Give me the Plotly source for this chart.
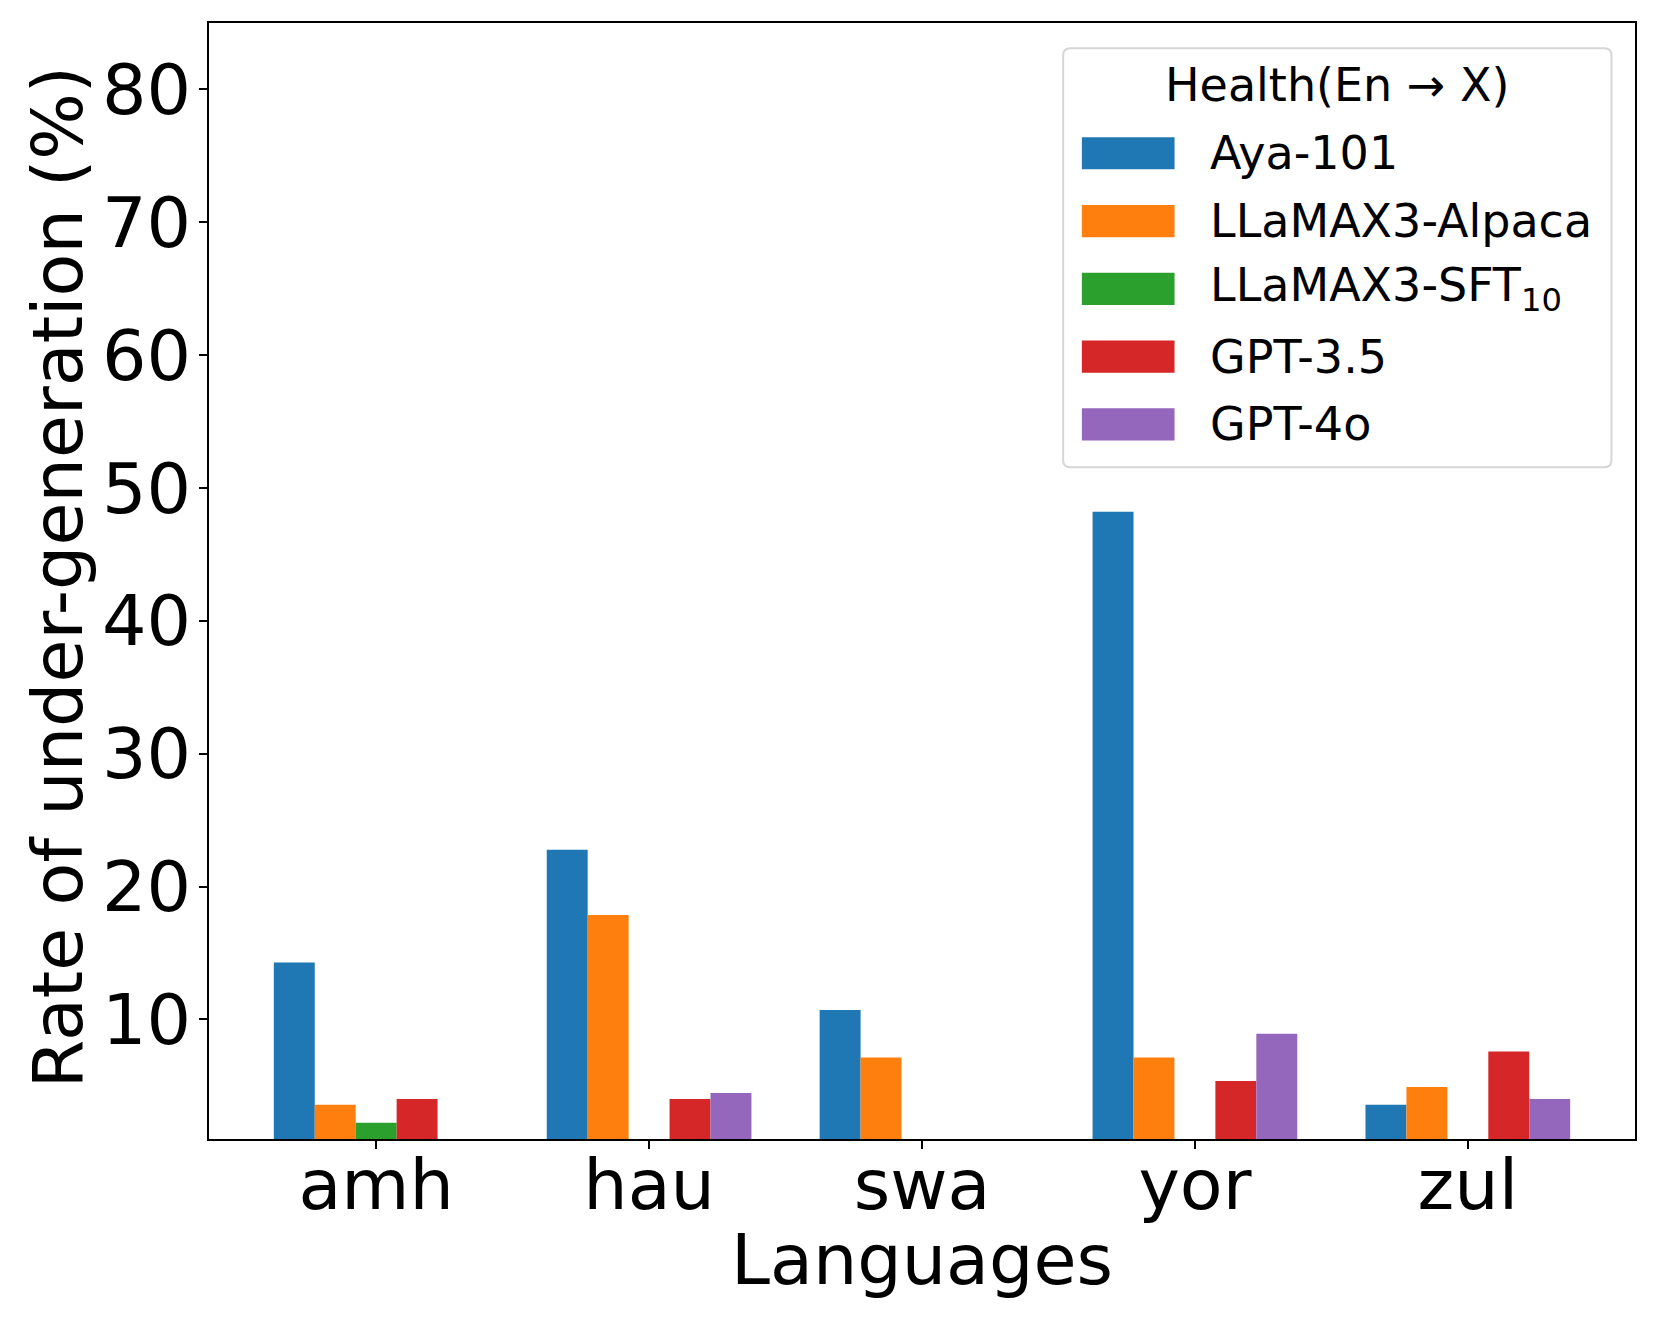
import plotly.graph_objects as go

languages = ["amh", "hau", "swa", "yor", "zul"]
models = ["Aya-101", "LLaMAX3-Alpaca", "LLaMAX3-SFT<sub>10</sub>", "GPT-3.5", "GPT-4o"]
colors = ["#1f77b4", "#ff7f0e", "#2ca02c", "#d62728", "#9467bd"]

aya_101 = [14.29, 22.77, 10.71, 48.21, 3.57]
llamax_alpaca = [3.57, 17.86, 7.14, 7.14, 4.91]
llamax_sft10 = [2.23, 0.0, 0.0, 0.0, 0.0]
gpt_35 = [4.02, 4.02, 0.0, 5.36, 7.59]
gpt_4o = [0.0, 4.46, 0.0, 8.93, 4.02]
series = [aya_101, llamax_alpaca, llamax_sft10, gpt_35, gpt_4o]

y_ticks = [10, 20, 30, 40, 50, 60, 70, 80]
legend_title = "Health(En → X)"
x_title = "Languages"
y_title = "Rate of under-generation (%)"

FONT = "DejaVu Sans"
fig = go.Figure()
for name, vals, col in zip(models, series, colors):
    fig.add_trace(go.Bar(x=list(range(len(languages))), y=vals, name=name,
                         marker=dict(color=col, line=dict(width=0)),
                         showlegend=False))

# custom legend (matplotlib-like)
lx0, lx1, ly0, ly1 = 0.5990, 0.9835, 0.6019, 0.9773
shapes = [dict(type="path", xref="paper", yref="paper",
               path=(f"M{lx0+0.005},{ly0} L{lx1-0.005},{ly0} Q{lx1},{ly0} {lx1},{ly0+0.0065} "
                     f"L{lx1},{ly1-0.0065} Q{lx1},{ly1} {lx1-0.005},{ly1} "
                     f"L{lx0+0.005},{ly1} Q{lx0},{ly1} {lx0},{ly1-0.0065} "
                     f"L{lx0},{ly0+0.0065} Q{lx0},{ly0} {lx0+0.005},{ly0} Z"),
               line=dict(color="#d6d6d6", width=2), fillcolor="rgba(255,255,255,0.8)", layer="above")]
annotations = [dict(text=legend_title, xref="paper", yref="paper", x=0.7913, y=0.9444,
                    showarrow=False, xanchor="center", yanchor="middle",
                    font=dict(family=FONT, size=46, color="black"))]
row_top, row_step, half_h = 0.8833, 0.06075, 0.01443
for i, (name, col) in enumerate(zip(models, colors)):
    yc = row_top - i * row_step
    shapes.append(dict(type="rect", xref="paper", yref="paper", x0=0.6121, x1=0.6771,
                       y0=yc - half_h, y1=yc + half_h, line=dict(width=0), fillcolor=col, layer="above"))
    annotations.append(dict(text=name, xref="paper", yref="paper", x=0.7004, y=yc,
                            showarrow=False, xanchor="left", yanchor="middle",
                            font=dict(family=FONT, size=46, color="black")))

# axis titles
annotations.append(dict(text=x_title, xref="paper", yref="paper", x=0.5, y=-0.1084,
                        showarrow=False, xanchor="center", yanchor="middle",
                        font=dict(family=FONT, size=70, color="black")))
annotations.append(dict(text=y_title, xref="paper", yref="paper", x=-0.1062, y=0.503,
                        textangle=-90, showarrow=False, xanchor="center", yanchor="middle",
                        font=dict(family=FONT, size=70, color="black")))

fig.update_layout(
    width=1645, height=1313,
    margin=dict(l=200.5, r=17.5, t=15, b=182),
    paper_bgcolor="white", plot_bgcolor="white",
    barmode="group", bargap=0.25, bargroupgap=0,
    font=dict(family=FONT, color="black"),
    shapes=shapes, annotations=annotations,
    showlegend=False,
)
fig.update_xaxes(
    tickmode="array", tickvals=list(range(len(languages))), ticktext=languages,
    range=[-0.6125, 4.6125],
    showline=True, mirror=True, linecolor="black", linewidth=2,
    ticks="outside", ticklen=8, tickwidth=1.5, tickcolor="black",
    showgrid=False, zeroline=False,
    tickfont=dict(family=FONT, size=70, color="black"),
    ticklabelstandoff=-24,
)
fig.update_yaxes(
    tickmode="array", tickvals=y_ticks, range=[1, 85],
    showline=True, mirror=True, linecolor="black", linewidth=2,
    ticks="outside", ticklen=8, tickwidth=1.5, tickcolor="black",
    showgrid=False, zeroline=False,
    tickfont=dict(family=FONT, size=70, color="black"),
    ticklabelstandoff=-6,
)

fig.write_html("out.html")
